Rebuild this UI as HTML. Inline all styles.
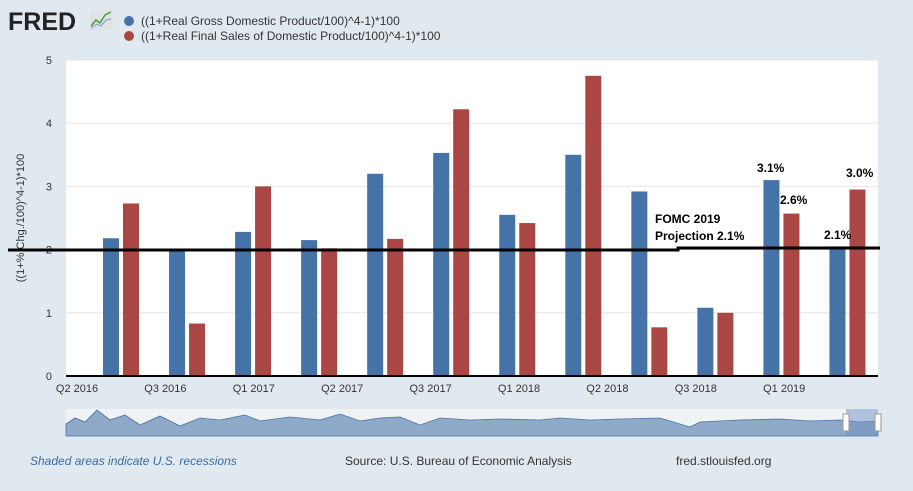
<!DOCTYPE html>
<html><head><meta charset="utf-8"><style>
body{margin:0;background:#e1e9f0;font-family:"Liberation Sans",sans-serif;}
svg text{font-family:"Liberation Sans",sans-serif;}
</style></head><body>
<svg width="913" height="486">
<rect width="913" height="486" fill="#e1e9f0"/>
<text x="8" y="30" font-size="25" font-weight="bold" fill="#222">FRED</text>
<g><rect x="90" y="10" width="22" height="20" fill="#dfe3e6"/><polyline points="91,26 96,20 100,23 105,15 111,12" fill="none" stroke="#4a9a3b" stroke-width="1.5"/><polyline points="91,28 97,24 101,26 106,20 111,19" fill="none" stroke="#7a9ac0" stroke-width="1"/></g>
<g>
<circle cx="129" cy="21" r="5" fill="#4572a7"/>
<text x="141" y="25" font-size="12" fill="#333">((1+Real Gross Domestic Product/100)^4-1)*100</text>
<circle cx="129" cy="36" r="5" fill="#aa4643"/>
<text x="141" y="40" font-size="12" fill="#333">((1+Real Final Sales of Domestic Product/100)^4-1)*100</text>
</g>
<rect x="66" y="60" width="812" height="316" fill="#fff"/>
<g id="grid"></g><g id="bars"></g><g id="axes"></g>
<text transform="translate(24,218) rotate(-90)" font-size="11" fill="#333" text-anchor="middle">((1+% Chg./100)^4-1)*100</text>
<g>
<polyline points="8,250 678,250 678,248 880,248" fill="none" stroke="#000" stroke-width="3"/>
</g>
<text x="655" y="223" font-size="12" font-weight="bold">FOMC 2019</text>
<text x="655" y="240" font-size="12" font-weight="bold">Projection 2.1%</text>
<text x="757" y="172" font-size="12" font-weight="bold">3.1%</text>
<text x="780" y="204" font-size="12" font-weight="bold">2.6%</text>
<text x="846" y="177" font-size="12" font-weight="bold">3.0%</text>
<text x="824" y="239" font-size="12" font-weight="bold">2.1%</text>
<g>
<rect x="66" y="409" width="812" height="27" fill="#f0f3f6"/>
<path d="M66,424 L75,418 L85,422 L97,410 L110,420 L125,415 L140,425 L160,416 L180,426 L200,418 L220,420 L245,415 L260,421 L290,417 L320,420 L340,414 L360,421 L380,418 L400,417 L420,425 L440,418 L470,420 L500,419 L540,420 L560,418 L590,420 L620,419 L660,418 L690,427 L700,422 L740,420 L780,419 L810,421 L840,420 L860,422 L878,421 L878,436 L66,436 Z" fill="#8fa9c8" stroke="#4572a7" stroke-width="0.8"/>
<rect x="846" y="409" width="32" height="27" fill="#6f8fbf" opacity="0.5"/>
<rect x="843" y="414" width="6" height="17" fill="#fff" stroke="#999"/>
<rect x="875" y="414" width="6" height="17" fill="#fff" stroke="#999"/>
</g>
<text x="30" y="465" font-size="12" font-style="italic" fill="#3b6aa0">Shaded areas indicate U.S. recessions</text>
<text x="345" y="465" font-size="12" fill="#333">Source: U.S. Bureau of Economic Analysis</text>
<text x="676" y="465" font-size="12" fill="#333">fred.stlouisfed.org</text>
</svg>
<script>
const categories=["Q3 2016","Q4 2016","Q1 2017","Q2 2017","Q3 2017","Q4 2017","Q1 2018","Q2 2018","Q3 2018","Q4 2018","Q1 2019","Q2 2019"];
const gdpValues=[2.18,2.0,2.28,2.15,3.2,3.53,2.55,3.5,2.92,1.08,3.1,2.05];
const finalSalesValues=[2.73,0.83,3.0,2.02,2.17,4.22,2.42,4.75,0.77,1.0,2.57,2.95];
const yTicks=[0,1,2,3,4,5];
const xTickLabels=["Q2 2016","Q3 2016","Q1 2017","Q2 2017","Q3 2017","Q1 2018","Q2 2018","Q3 2018","Q1 2019"];
const NS="http://www.w3.org/2000/svg";
const x0=66,x1=878,y0=376,y1=60,yMax=5;
function yScale(v){return y0-(v/yMax)*(y0-y1);}
function xGroup(i){return 121+i*((x1-x0)/categories.length*0.976);}
function xLabel(i){return 77+i*88.4;}
function mk(tag,attrs,parent){const e=document.createElementNS(NS,tag);for(const k in attrs)e.setAttribute(k,attrs[k]);parent.appendChild(e);return e;}
const grid=document.getElementById('grid'),bars=document.getElementById('bars'),axes=document.getElementById('axes');
yTicks.forEach(t=>{
  const l=mk('line',{x1:x0,x2:x1,y1:yScale(t),y2:yScale(t),stroke:'#e6e6e6'},grid);
  
  
  const tx=mk('text',{x:52,y:yScale(t)+4,'font-size':11,fill:'#333','text-anchor':'end'},axes);
  tx.textContent=t;
  
  
});
categories.forEach((c,i)=>{
  const cx=xGroup(i);
  const b1=mk('rect',{x:cx-18,y:yScale(gdpValues[i]),width:16,height:y0-yScale(gdpValues[i]),fill:'#4572a7'},bars);
  
  
  const b2=mk('rect',{x:cx+2,y:yScale(finalSalesValues[i]),width:16,height:y0-yScale(finalSalesValues[i]),fill:'#aa4643'},bars);
  
  
});
const ax=mk('line',{x1:x0,x2:x1,y1:y0,y2:y0,stroke:'#000','stroke-width':2},axes);


xTickLabels.forEach((s,i)=>{
  const t=mk('text',{x:xLabel(i),y:392,'font-size':11,fill:'#333','text-anchor':'middle'},axes);
  t.textContent=s;
  
  
});
</script>
</body></html>
